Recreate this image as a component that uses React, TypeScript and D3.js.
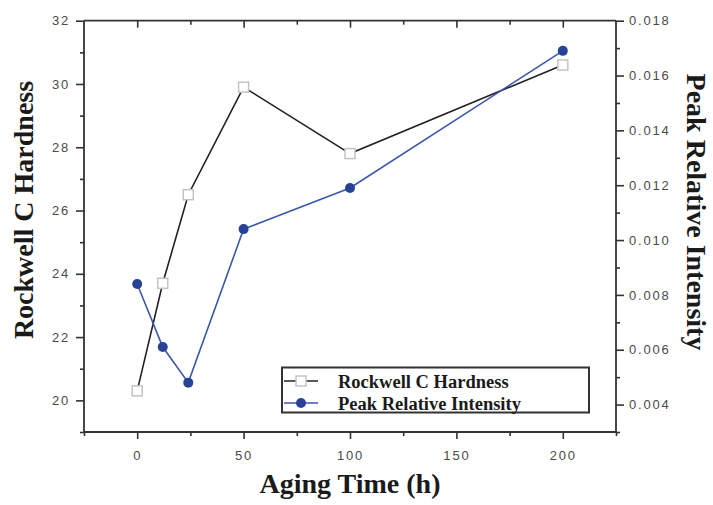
import React, { useEffect, useRef } from "react";
import * as d3 from "d3";

const agingTime = [0, 12, 24, 50, 100, 200];
const hardness = [20.3, 23.7, 26.5, 29.9, 27.8, 30.6];
const intensity = [0.0084, 0.0061, 0.0048, 0.0104, 0.0119, 0.0169];
const xMajorTicks = [0, 50, 100, 150, 200];
const xMinorTicks = [-25, 25, 75, 125, 175, 225];
const yLeftMajor = [20, 22, 24, 26, 28, 30, 32];
const yLeftMinor = [19, 21, 23, 25, 27, 29, 31];
const yRightMajor = [0.004, 0.006, 0.008, 0.01, 0.012, 0.014, 0.016, 0.018];
const yRightMinor = [0.003, 0.005, 0.007, 0.009, 0.011, 0.013, 0.015, 0.017];
const seriesNames = ["Rockwell C Hardness", "Peak Relative Intensity"];

const W = 713, H = 505;
const M = { left: 84, right: 616, top: 20.7, bottom: 432 };
const AX = "#333";
const TICKTXT = "#4a4a4a";
const BLUE_LINE = "#3b58a8";
const BLUE_DOT = "#2a4296";
const SERIF = "'Liberation Serif', 'Times New Roman', Times, serif";

export default function App() {
  const ref = useRef<SVGSVGElement>(null);
  useEffect(() => {
    const svg = d3.select(ref.current);
    svg.selectAll("*").remove();
    const x = d3.scaleLinear().domain([-25, 225]).range([M.left, M.right]);
    const yL = d3.scaleLinear().domain([19, 32]).range([M.bottom, M.top]);
    const yR = d3.scaleLinear().domain([0.003, 0.018]).range([M.bottom, M.top]);

    const tickFont = (g: any) =>
      g.selectAll("text")
        .attr("fill", TICKTXT)
        .style("font-family", "Arial, 'Liberation Sans', sans-serif")
        .style("font-size", "13px")
        .style("letter-spacing", "1.8px");
    const styleAxis = (g: any) => {
      g.select(".domain").remove();
      g.selectAll("line").attr("stroke", AX).attr("stroke-width", 1.6);
    };

    // frame lines
    const frame = svg.append("g");
    frame.append("line").attr("x1", M.left).attr("x2", M.right).attr("y1", M.bottom).attr("y2", M.bottom);
    frame.append("line").attr("x1", M.left).attr("x2", M.right).attr("y1", M.top).attr("y2", M.top);
    frame.append("line").attr("x1", M.left).attr("x2", M.left).attr("y1", M.top).attr("y2", M.bottom);
    frame.append("line").attr("x1", M.right).attr("x2", M.right).attr("y1", M.top).attr("y2", M.bottom);
    frame.selectAll("line").attr("stroke", AX).attr("stroke-width", 1.8);

    // bottom axis
    const gb = svg.append("g").attr("transform", `translate(0,${M.bottom})`);
    gb.append("g").call(d3.axisBottom(x).tickValues(xMajorTicks).tickSize(7).tickPadding(12).tickFormat(d3.format("d")))
      .call(styleAxis).call(tickFont);
    gb.append("g").call(d3.axisBottom(x).tickValues(xMinorTicks).tickSize(4).tickFormat(() => ""))
      .call(styleAxis);
    // top axis (inward)
    const gt = svg.append("g").attr("transform", `translate(0,${M.top})`);
    gt.append("g").call(d3.axisBottom(x).tickValues(xMajorTicks).tickSize(7).tickFormat(() => "")).call(styleAxis);
    gt.append("g").call(d3.axisBottom(x).tickValues(xMinorTicks.slice(1, -1)).tickSize(4).tickFormat(() => "")).call(styleAxis);

    // left axis
    const gl = svg.append("g").attr("transform", `translate(${M.left},0)`);
    gl.append("g").call(d3.axisLeft(yL).tickValues(yLeftMajor).tickSize(8).tickPadding(6).tickFormat(d3.format("d")))
      .call(styleAxis).call(tickFont);
    gl.append("g").call(d3.axisLeft(yL).tickValues(yLeftMinor).tickSize(4).tickFormat(() => "")).call(styleAxis);

    // right axis
    const gr = svg.append("g").attr("transform", `translate(${M.right},0)`);
    gr.append("g").call(d3.axisRight(yR).tickValues(yRightMajor).tickSize(8).tickPadding(5).tickFormat(d3.format(".3f")))
      .call(styleAxis).call(tickFont);
    gr.append("g").call(d3.axisRight(yR).tickValues(yRightMinor).tickSize(4).tickFormat(() => "")).call(styleAxis);

    // axis titles
    const titleStyle = (t: any) =>
      t.attr("fill", "#1a1a1a")
        .attr("font-family", SERIF)
        .style("font-family", SERIF)
        .style("font-weight", "bold")
        .style("font-size", "28px")
        .attr("text-anchor", "middle");
    svg.append("text").attr("transform", `translate(33,210) rotate(-90)`).text("Rockwell C Hardness").call(titleStyle);
    svg.append("text").attr("transform", `translate(687,212) rotate(90)`).text("Peak Relative Intensity").call(titleStyle);
    svg.append("text").attr("x", (M.left + M.right) / 2).attr("y", 493).text("Aging Time (h)").call(titleStyle);

    // lines
    const idx = d3.range(agingTime.length);
    const lineH = d3.line<number>().x((i) => x(agingTime[i])).y((i) => yL(hardness[i]));
    const lineI = d3.line<number>().x((i) => x(agingTime[i])).y((i) => yR(intensity[i]));
    svg.append("path").attr("d", lineH(idx)).attr("fill", "none").attr("stroke", "#222").attr("stroke-width", 1.6);
    svg.append("path").attr("d", lineI(idx)).attr("fill", "none").attr("stroke", BLUE_LINE).attr("stroke-width", 1.6);
    svg.append("g").selectAll("rect").data(idx).join("rect")
      .attr("x", (i) => x(agingTime[i]) - 5).attr("y", (i) => yL(hardness[i]) - 5)
      .attr("width", 10).attr("height", 10)
      .attr("fill", "#fff").attr("stroke", "#c4c4c4").attr("stroke-width", 1.5);
    svg.append("g").selectAll("circle").data(idx).join("circle")
      .attr("cx", (i) => x(agingTime[i])).attr("cy", (i) => yR(intensity[i])).attr("r", 5)
      .attr("fill", BLUE_DOT);

    // legend
    const lg = svg.append("g");
    lg.append("rect").attr("x", 282).attr("y", 367.5).attr("width", 307).attr("height", 45)
      .attr("fill", "#fff").attr("stroke", AX).attr("stroke-width", 2);
    const rows = [
      { y: 381, color: "#222" },
      { y: 403, color: BLUE_LINE },
    ];
    rows.forEach((r, k) => {
      lg.append("line").attr("x1", 284).attr("x2", 318).attr("y1", r.y).attr("y2", r.y)
        .attr("stroke", r.color).attr("stroke-width", 1.6);
      if (k === 0) {
        lg.append("rect").attr("x", 296).attr("y", r.y - 5).attr("width", 10).attr("height", 10)
          .attr("fill", "#fff").attr("stroke", "#c4c4c4").attr("stroke-width", 1.5);
      } else {
        lg.append("circle").attr("cx", 301).attr("cy", r.y).attr("r", 5).attr("fill", BLUE_DOT);
      }
      lg.append("text").attr("x", 338).attr("y", r.y + 6.5).text(seriesNames[k])
        .attr("fill", "#1a1a1a")
        .style("font-family", SERIF)
        .style("font-weight", "bold")
        .style("font-size", "18.5px");
    });
  }, []);
  return (
    <svg ref={ref} width={W} height={H}
      style={{ position: "absolute", left: 0, top: 0, background: "#fff" }} />
  );
}
